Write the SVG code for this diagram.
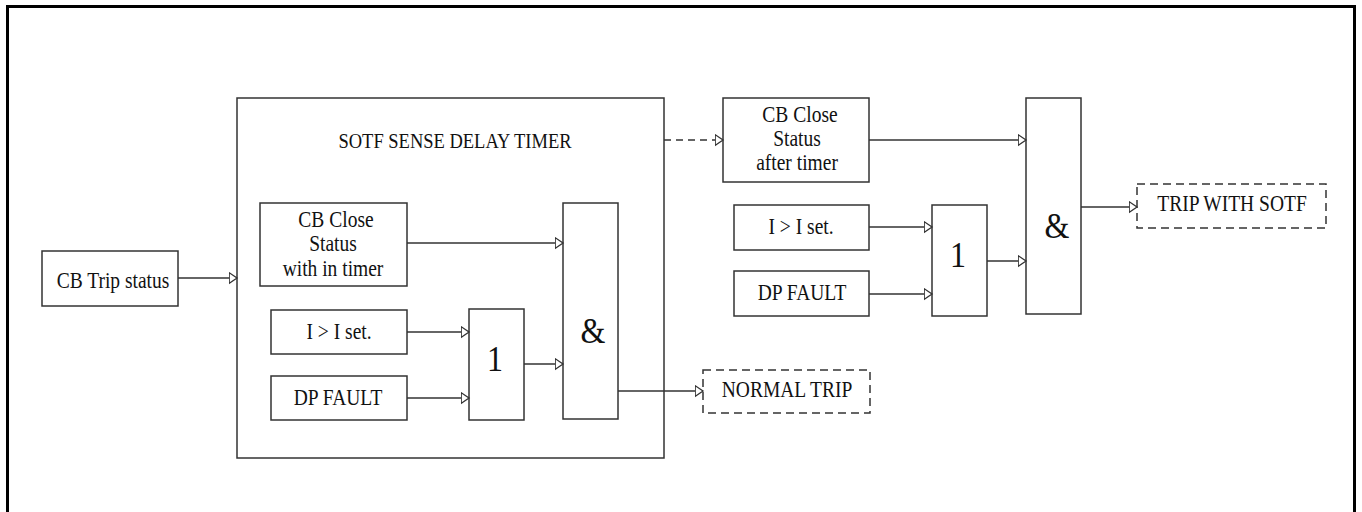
<svg xmlns="http://www.w3.org/2000/svg" width="1362" height="512" viewBox="0 0 1362 512">
<defs>
<marker id="arr" markerUnits="userSpaceOnUse" markerWidth="11" markerHeight="13" refX="8.5" refY="6" orient="auto">
<path d="M0.7,0.7 L8.5,6 L0.7,11.3 Z" fill="#fff" stroke="#333" stroke-width="1.3"/>
</marker>
</defs>
<style>
.b{fill:#fff;stroke:#333;stroke-width:1.5}
.d{fill:#fff;stroke:#333;stroke-width:1.5;stroke-dasharray:8 5}
.t{font-family:"Liberation Serif","Times New Roman",serif;font-size:19.5px;fill:#111;text-anchor:middle}
.g{font-family:"Liberation Serif","Times New Roman",serif;font-size:32px;fill:#111;text-anchor:middle}
.c{fill:none;stroke:#333;stroke-width:1.5;marker-end:url(#arr)}
</style>
<rect x="0" y="0" width="1362" height="512" fill="#fff"/>
<rect x="7.5" y="6.5" width="1347" height="520" fill="none" stroke="#000" stroke-width="3"/>

<g id="timer">
<rect class="b" x="237" y="98" width="427" height="360"/>
<text class="t" transform="translate(455,148) scale(1,1.17)" style="font-size:18.5px">SOTF SENSE DELAY TIMER</text>
</g>

<g id="cbtrip">
<rect class="b" x="42" y="251" width="136" height="55"/>
<text class="t" transform="translate(113,288) scale(1,1.17)">CB Trip status</text>
</g>

<g id="cbclose1">
<rect class="b" x="260" y="203" width="147" height="83"/>
<text class="t" transform="translate(336,227) scale(1,1.17)">CB Close</text>
<text class="t" transform="translate(333,251) scale(1,1.17)">Status</text>
<text class="t" transform="translate(333,276) scale(1,1.17)">with in timer</text>
</g>

<g id="iset1">
<rect class="b" x="271" y="310" width="136" height="44"/>
<text class="t" transform="translate(339,339) scale(1,1.17)">I &gt; I set.</text>
</g>

<g id="dpfault1">
<rect class="b" x="271" y="376" width="136" height="44"/>
<text class="t" transform="translate(338,405) scale(1,1.17)">DP FAULT</text>
</g>

<g id="or1">
<rect class="b" x="469" y="309" width="55" height="111"/>
<text class="g" transform="translate(495,371) scale(1,1.12)">1</text>
</g>

<g id="and1">
<rect class="b" x="563" y="203" width="55" height="216"/>
<text class="g" transform="translate(593,343) scale(1,1.1)">&amp;</text>
</g>

<g id="normaltrip">
<rect class="d" x="703" y="370" width="167" height="43"/>
<text class="t" transform="translate(787,397) scale(1,1.17)">NORMAL TRIP</text>
</g>

<g id="cbclose2">
<rect class="b" x="723" y="98" width="146" height="84"/>
<text class="t" transform="translate(800,122) scale(1,1.17)">CB Close</text>
<text class="t" transform="translate(797,146) scale(1,1.17)">Status</text>
<text class="t" transform="translate(797,170) scale(1,1.17)">after timer</text>
</g>

<g id="iset2">
<rect class="b" x="734" y="205" width="135" height="45"/>
<text class="t" transform="translate(801,234) scale(1,1.17)">I &gt; I set.</text>
</g>

<g id="dpfault2">
<rect class="b" x="734" y="271" width="135" height="45"/>
<text class="t" transform="translate(802,300) scale(1,1.17)">DP FAULT</text>
</g>

<g id="or2">
<rect class="b" x="932" y="205" width="55" height="111"/>
<text class="g" transform="translate(958,267) scale(1,1.12)">1</text>
</g>

<g id="and2">
<rect class="b" x="1026" y="98" width="55" height="216"/>
<text class="g" transform="translate(1057,238) scale(1,1.1)">&amp;</text>
</g>

<g id="tripsotf">
<rect class="d" x="1137" y="184" width="189" height="44"/>
<text class="t" transform="translate(1232,211) scale(1,1.17)">TRIP WITH SOTF</text>
</g>

<g id="connectors">
<path class="c" d="M178,278 H237"/>
<path class="c" d="M407,243 H563"/>
<path class="c" d="M407,332 H469"/>
<path class="c" d="M407,398 H469"/>
<path class="c" d="M524,364 H563"/>
<path class="c" d="M618,391 H703"/>
<path class="c" d="M664,140 H723" style="stroke-dasharray:7 5"/>
<path class="c" d="M869,140 H1026"/>
<path class="c" d="M869,227 H932"/>
<path class="c" d="M869,294 H932"/>
<path class="c" d="M987,261 H1026"/>
<path class="c" d="M1081,207 H1137"/>
</g>
</svg>
